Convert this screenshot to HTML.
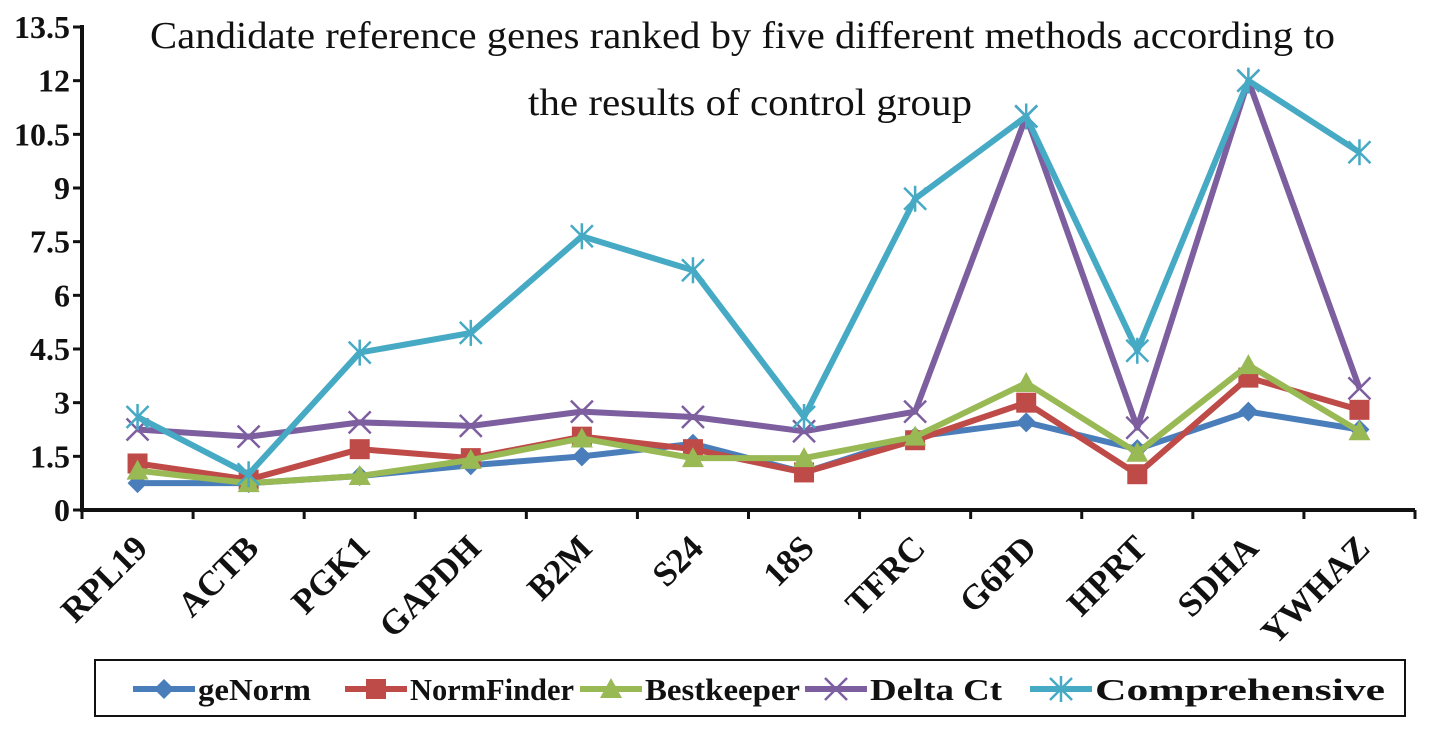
<!DOCTYPE html>
<html><head><meta charset="utf-8"><style>
html,body{margin:0;padding:0;background:#fff;width:1441px;height:730px;overflow:hidden}
svg{display:block}
text{font-family:"Liberation Serif",serif;font-weight:bold;fill:#111}
</style></head><body>
<svg id="chart" width="1441" height="730" viewBox="0 0 1441 730">
<text x="150" y="48" font-size="38" textLength="1185" lengthAdjust="spacingAndGlyphs" style="font-weight:normal">Candidate reference genes ranked by five different methods according to</text>
<text x="528" y="115" font-size="38" textLength="444" lengthAdjust="spacingAndGlyphs" style="font-weight:normal">the results of control group</text>
<g id="axes"></g>
<g id="series"></g>
<g id="legend"></g>
</svg>
<script>
const categories=["RPL19","ACTB","PGK1","GAPDH","B2M","S24","18S","TFRC","G6PD","HPRT","SDHA","YWHAZ"];
const yTicks=[0,1.5,3,4.5,6,7.5,9,10.5,12,13.5];
const yTickLabels=["0","1.5","3","4.5","6","7.5","9","10.5","12","13.5"];
const seriesNames=["geNorm","NormFinder","Bestkeeper","Delta Ct","Comprehensive"];
const geNorm=[0.75,0.75,0.95,1.25,1.5,1.85,1.05,2.05,2.45,1.7,2.75,2.25];
const normFinder=[1.3,0.85,1.7,1.45,2.05,1.7,1.05,1.95,3.0,1.0,3.7,2.8];
const bestkeeper=[1.1,0.75,0.95,1.4,2.0,1.45,1.45,2.05,3.55,1.6,4.05,2.2];
const deltaCt=[2.25,2.05,2.45,2.35,2.75,2.6,2.2,2.75,11,2.3,12,3.4];
const comprehensive=[2.6,1.0,4.4,4.95,7.65,6.7,2.6,8.7,11,4.45,12,10.0];
const NS="http://www.w3.org/2000/svg";
const x0=82,x1=1415,y0=510,yTop=27,yMax=13.5;
const band=(x1-x0)/categories.length;
function xs(i){return x0+band*(i+0.5);}
function ys(v){return y0-(v/yMax)*(y0-yTop);}
function mk(tag,attrs,parent){const e=document.createElementNS(NS,tag);for(const k in attrs)e.setAttribute(k,attrs[k]);parent.appendChild(e);return e;}
const axes=document.getElementById('axes');
let yl=mk('line',{x1:x0,y1:yTop-2,x2:x0,y2:y0+2,stroke:'#111','stroke-width':4},axes);


let xl=mk('line',{x1:x0-2,y1:y0,x2:x1,y2:y0,stroke:'#111','stroke-width':4},axes);


yTicks.forEach((v,i)=>{
  mk('line',{x1:x0-9,y1:ys(v),x2:x0,y2:ys(v),stroke:'#111','stroke-width':3},axes);
  const t=mk('text',{x:x0-12,y:ys(v)+11,'font-size':32,'text-anchor':'end'},axes);
  t.textContent=yTickLabels[i];
  
  
});
for(let i=0;i<=categories.length;i++){
  mk('line',{x1:x0+band*i,y1:y0,x2:x0+band*i,y2:y0+9,stroke:'#111','stroke-width':3},axes);
}
categories.forEach((c,i)=>{
  const cx=xs(i)+12,cy=y0+40;
  const t=mk('text',{x:cx,y:cy,'font-size':35,'text-anchor':'end',transform:`rotate(-45 ${cx} ${cy})`},axes);
  t.textContent=c;
  
  
});
const colors=["#4a7ebb","#be4b48","#98b954","#7d5fa0","#46aac5"];
const data=[geNorm,normFinder,bestkeeper,deltaCt,comprehensive];
function marker(k,x,y,g){
  const c=colors[k];
  if(k===0)return mk('polygon',{points:`${x},${y-10} ${x+10},${y} ${x},${y+10} ${x-10},${y}`,fill:c},g);
  if(k===1)return mk('rect',{x:x-10,y:y-10,width:20,height:20,fill:c},g);
  if(k===2)return mk('polygon',{points:`${x},${y-11} ${x+11},${y+9} ${x-11},${y+9}`,fill:c},g);
  if(k===3)return mk('path',{d:`M${x-11},${y-11}L${x+11},${y+11}M${x+11},${y-11}L${x-11},${y+11}`,stroke:c,'stroke-width':2.5},g);
  return mk('path',{d:`M${x-11},${y-11}L${x+11},${y+11}M${x+11},${y-11}L${x-11},${y+11}M${x},${y-13}L${x},${y+13}`,stroke:c,'stroke-width':2.5},g);
}
const sg=document.getElementById('series');
data.forEach((arr,k)=>{
  const g=mk('g',{},sg);
  
  
  const pts=arr.map((v,i)=>xs(i)+','+ys(v)).join(' ');
  mk('polyline',{points:pts,fill:'none',stroke:colors[k],'stroke-width':6,'stroke-linejoin':'round'},g);
  arr.forEach((v,i)=>{
    const m=marker(k,xs(i),ys(v),g);
    
    
  });
});
const lg=document.getElementById('legend');
const box=mk('rect',{x:95,y:660,width:1310,height:56,fill:'#fff',stroke:'#111','stroke-width':2},lg);


const lx=[133,345,580,805,1030];
const lw=[113,164,155,132,290];
seriesNames.forEach((n,k)=>{
  const g=mk('g',{},lg);
  
  
  mk('line',{x1:lx[k],y1:689,x2:lx[k]+62,y2:689,stroke:colors[k],'stroke-width':6},g);
  marker(k,lx[k]+31,689,g);
  const t=mk('text',{x:lx[k]+65,y:700,'font-size':31,textLength:lw[k],lengthAdjust:'spacingAndGlyphs'},g);
  t.textContent=n;
});
</script>
</body></html>
